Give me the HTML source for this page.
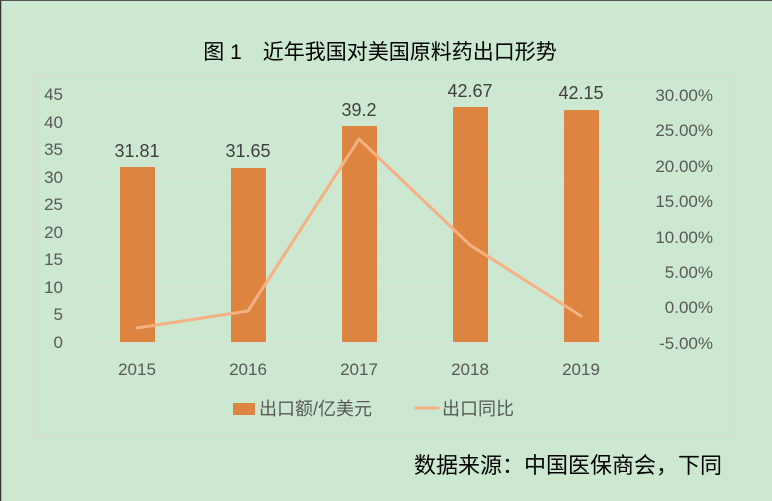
<!DOCTYPE html><html><head><meta charset="utf-8"><style>
body{margin:0;width:772px;height:501px;overflow:hidden;background:#cee8d0;font-family:"Liberation Sans","Noto Sans CJK SC",sans-serif}
</style></head><body>
<svg width="772" height="501" xmlns="http://www.w3.org/2000/svg" style="position:absolute;left:0;top:0">
<rect x="0" y="0" width="772" height="501" fill="#cde8d0"/>
<line x1="0.5" y1="0" x2="0.5" y2="501" stroke="#333" stroke-width="1.5"/>
<line x1="0" y1="0.5" x2="772" y2="0.5" stroke="#555" stroke-width="1"/>
<rect x="34.5" y="75.5" width="701" height="361" fill="none" stroke="#d9d9d9" stroke-width="1"/>
<text x="380" y="59" font-size="21" text-anchor="middle" fill="#000">图 1　近年我国对美国原料药出口形势</text>
<g stroke="#d9e2d9" stroke-width="1">
<line x1="84" y1="94.5" x2="640" y2="94.5"/><line x1="84" y1="122" x2="640" y2="122"/><line x1="84" y1="149.5" x2="640" y2="149.5"/><line x1="84" y1="177" x2="640" y2="177"/><line x1="84" y1="204.5" x2="640" y2="204.5"/><line x1="84" y1="232" x2="640" y2="232"/><line x1="84" y1="259.5" x2="640" y2="259.5"/><line x1="84" y1="287" x2="640" y2="287"/><line x1="84" y1="314.5" x2="640" y2="314.5"/><line x1="84" y1="342.5" x2="640" y2="342.5"/>
</g>
<g fill="#595959" font-size="17" text-anchor="end">
<text x="63" y="100">45</text><text x="63" y="128">40</text><text x="63" y="155">35</text><text x="63" y="183">30</text><text x="63" y="210">25</text><text x="63" y="238">20</text><text x="63" y="265">15</text><text x="63" y="293">10</text><text x="63" y="320">5</text><text x="63" y="348">0</text>
</g>
<g fill="#595959" font-size="17" text-anchor="end">
<text x="713" y="101">30.00%</text><text x="713" y="136">25.00%</text><text x="713" y="172">20.00%</text><text x="713" y="207">15.00%</text><text x="713" y="243">10.00%</text><text x="713" y="278">5.00%</text><text x="713" y="313">0.00%</text><text x="713" y="349">-5.00%</text>
</g>
<g fill="#dd8441">
<rect x="120" y="167" width="35" height="175"/><rect x="231" y="168" width="35" height="174"/><rect x="342" y="126" width="35" height="216"/><rect x="453" y="107" width="35" height="235"/><rect x="564" y="110" width="35" height="232"/>
</g>
<g fill="#404040" font-size="18" text-anchor="middle">
<text x="137" y="157">31.81</text><text x="248" y="157">31.65</text><text x="359" y="116">39.2</text><text x="470" y="97">42.67</text><text x="581" y="99">42.15</text>
</g>
<polyline points="137,328 248,311 359,139 470,245 581,316" fill="none" stroke="#f4b183" stroke-width="3" stroke-linejoin="round" stroke-linecap="round"/>
<g fill="#595959" font-size="17" text-anchor="middle">
<text x="137" y="375">2015</text><text x="248" y="375">2016</text><text x="359" y="375">2017</text><text x="470" y="375">2018</text><text x="581" y="375">2019</text>
</g>
<rect x="233" y="403" width="22" height="12" fill="#dd8441"/>
<text x="259" y="415" font-size="18" fill="#595959">出口额/亿美元</text>
<line x1="416" y1="408" x2="438" y2="408" stroke="#f4b183" stroke-width="3" stroke-linecap="round"/>
<text x="442" y="415" font-size="18" fill="#595959">出口同比</text>
<text x="722" y="473" font-size="22" text-anchor="end" fill="#000">数据来源：中国医保商会，下同</text>
</svg>
</body></html>
